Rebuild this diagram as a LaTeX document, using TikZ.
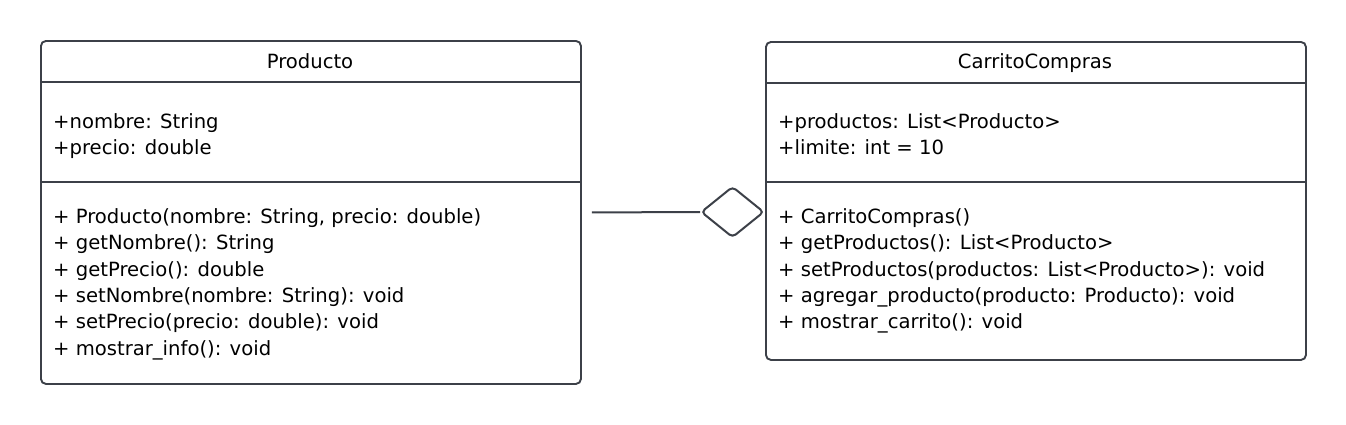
\documentclass[tikz,border=0pt]{standalone}
\usepackage{fontspec}
\setmainfont{DejaVu Sans}
\usetikzlibrary{shapes.geometric,calc}
\definecolor{edge}{HTML}{3C4048}
\tikzset{
  umlbox/.style={draw=edge, line width=1.9pt, rounded corners=5pt, rectangle, inner sep=0pt, anchor=north west},
  sep/.style={draw=edge, line width=1.9pt},
  txt/.style={anchor=base west, inner sep=0pt, font=\fontsize{19.6}{24}\selectfont, text=black},
  ttl/.style={anchor=base, inner sep=0pt, font=\fontsize{19.6}{24}\selectfont, text=black},
  agg/.style={diamond, draw=edge, line width=2pt, rounded corners=4pt, inner sep=0pt, minimum width=63pt, minimum height=51pt},
  conn/.style={draw=edge, line width=2pt}
}
\begin{document}
\begin{tikzpicture}[x=1pt,y=-1pt]
\useasboundingbox (0,0) rectangle (1346,424);
% Producto
\node[umlbox, minimum width=540pt, minimum height=343pt] (p) at (40,40) {};
\draw[sep] ($(p.north west)+(0,42)$) -- ($(p.north east)+(0,42)$);
\draw[sep] ($(p.north west)+(0,142)$) -- ($(p.north east)+(0,142)$);
\node[ttl] (pt) at (310,68) {Producto};
\node[txt] (pa1) at (53,128) {+nombre: String};
\node[txt] (pa2) at (53,154) {+precio: double};
\node[txt] (pm1) at (53,223) {+ Producto(nombre: String, precio: double)};
\node[txt] (pm2) at (53,249.5) {+ getNombre(): String};
\node[txt] (pm3) at (53,276) {+ getPrecio(): double};
\node[txt] (pm4) at (53,302.5) {+ setNombre(nombre: String): void};
\node[txt] (pm5) at (53,328.5) {+ setPrecio(precio: double): void};
\node[txt] (pm6) at (53,355) {+ mostrar\_info(): void};
% CarritoCompras
\node[umlbox, minimum width=540pt, minimum height=318pt] (c) at (765,41) {};
\draw[sep] ($(c.north west)+(0,42)$) -- ($(c.north east)+(0,42)$);
\draw[sep] ($(c.north west)+(0,141)$) -- ($(c.north east)+(0,141)$);
\node[ttl] (ct) at (1035,68) {CarritoCompras};
\node[txt] (ca1) at (778,128) {+productos: List<Producto>};
\node[txt] (ca2) at (778,154) {+limite: int = 10};
\node[txt] (cm1) at (778,223) {+ CarritoCompras()};
\node[txt] (cm2) at (778,249.5) {+ getProductos(): List<Producto>};
\node[txt] (cm3) at (778,276) {+ setProductos(productos: List<Producto>): void};
\node[txt] (cm4) at (778,302.5) {+ agregar\_producto(producto: Producto): void};
\node[txt] (cm5) at (778,328.5) {+ mostrar\_carrito(): void};
% aggregation
\node[agg, anchor=east] (d) at (c.west |- 0,212) {};
\coordinate (s) at ($(p.east)+(10,0)$);
\draw[conn] (s) -- (d.west);
\end{tikzpicture}
\end{document}
